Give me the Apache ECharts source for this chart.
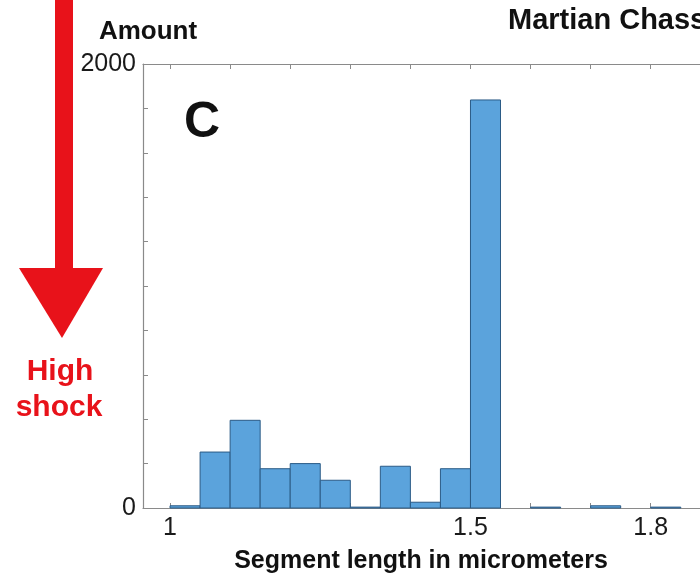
<!DOCTYPE html>
<html>
<head>
<meta charset="utf-8">
<script src="https://cdn.jsdelivr.net/npm/echarts@6/dist/echarts.min.js"></script>
<style>
  html, body { margin: 0; padding: 0; background: #ffffff; }
  #chart { width: 700px; height: 577px; }
</style>
</head>
<body>
<div id="chart"></div>
<script>
// Histogram bin edges (micrometers) and counts
const binEdges = [1.00, 1.05, 1.10, 1.15, 1.20, 1.25, 1.30, 1.35, 1.40, 1.45, 1.50, 1.55, 1.60, 1.65, 1.70, 1.75, 1.80, 1.85];
const counts   = [10, 252, 395, 177, 200, 125, 4, 188, 26, 177, 1838, 0, 4, 0, 10, 0, 4];
const xTickValues = [1.0, 1.1, 1.2, 1.3, 1.4, 1.5, 1.6, 1.7, 1.8];
const xLabelValues = [1, 1.5, 1.8];
const yLabelValues = [0, 2000];

const FONT = '"Liberation Sans", Arial, Helvetica, sans-serif';
const RED = '#e8121a';
const AXIS = '#8a8a8a';

const histData = counts.map((c, i) => [binEdges[i], binEdges[i + 1], c]);

const chart = echarts.init(document.getElementById('chart'), null, { renderer: 'canvas' });

chart.setOption({
  animation: false,
  backgroundColor: '#ffffff',
  textStyle: { fontFamily: FONT },
  grid: { left: 143, top: 64, width: 557, height: 444, containLabel: false },
  xAxis: [
    {
      type: 'value', position: 'bottom', min: 0.955, max: 1.882,
      axisLine: { show: true, lineStyle: { color: AXIS, width: 1.2 } },
      axisTick: { show: true, inside: true, length: 5, customValues: xTickValues, lineStyle: { color: AXIS } },
      axisLabel: { show: true, customValues: xLabelValues, fontSize: 25, color: '#1a1a1a', fontFamily: FONT, margin: 8,
                   formatter: v => String(v) },
      splitLine: { show: false }
    },
    {
      type: 'value', position: 'top', min: 0.955, max: 1.882,
      axisLine: { show: true, lineStyle: { color: AXIS, width: 1.2 } },
      axisTick: { show: true, inside: true, length: 5, customValues: xTickValues, lineStyle: { color: AXIS } },
      axisLabel: { show: false },
      splitLine: { show: false }
    }
  ],
  yAxis: {
    type: 'value', min: 0, max: 2000, interval: 200,
    axisLine: { show: true, lineStyle: { color: AXIS, width: 1.2 } },
    axisTick: { show: true, inside: true, length: 5, lineStyle: { color: AXIS } },
    axisLabel: { show: true, customValues: yLabelValues, fontSize: 25, color: '#1a1a1a', fontFamily: FONT, margin: 7,
                 formatter: v => String(v) },
    splitLine: { show: false }
  },
  series: [{
    type: 'custom',
    xAxisIndex: 0,
    yAxisIndex: 0,
    data: histData,
    encode: { x: [0, 1], y: 2 },
    renderItem: function (params, api) {
      const x0 = api.value(0), x1 = api.value(1), v = api.value(2);
      if (!v) return null;
      const pTop = api.coord([x0, v]);
      const pBot = api.coord([x1, 0]);
      return {
        type: 'rect',
        shape: { x: pTop[0], y: pTop[1], width: pBot[0] - pTop[0], height: pBot[1] - pTop[1] },
        style: { fill: '#5ba3dc', stroke: '#2b5b86', lineWidth: 1 }
      };
    }
  }],
  graphic: [
    // red arrow
    { type: 'rect', shape: { x: 55, y: 0, width: 18, height: 272 }, style: { fill: RED }, z: 10 },
    { type: 'polygon', shape: { points: [[19, 268], [103, 268], [62, 338]] }, style: { fill: RED }, z: 10 },
    { type: 'text', x: 60, y: 372, style: { text: 'High', fill: RED, font: 'bold 30px ' + FONT, textAlign: 'center', textVerticalAlign: 'middle' }, z: 10 },
    { type: 'text', x: 59, y: 408, style: { text: 'shock', fill: RED, font: 'bold 30px ' + FONT, textAlign: 'center', textVerticalAlign: 'middle' }, z: 10 },
    // axis titles and panel labels
    { type: 'text', x: 148, y: 32, style: { text: 'Amount', fill: '#111', font: 'bold 26px ' + FONT, textAlign: 'center', textVerticalAlign: 'middle' }, z: 10 },
    { type: 'text', x: 508, y: 21, style: { text: 'Martian Chassignite', fill: '#111', font: 'bold 29px ' + FONT, textAlign: 'left', textVerticalAlign: 'middle' }, z: 10 },
    { type: 'text', x: 202, y: 123, style: { text: 'C', fill: '#111', font: 'bold 50px ' + FONT, textAlign: 'center', textVerticalAlign: 'middle' }, z: 10 },
    { type: 'text', x: 421, y: 561, style: { text: 'Segment length in micrometers', fill: '#111', font: 'bold 25px ' + FONT, textAlign: 'center', textVerticalAlign: 'middle' }, z: 10 }
  ]
});
</script>
</body>
</html>
